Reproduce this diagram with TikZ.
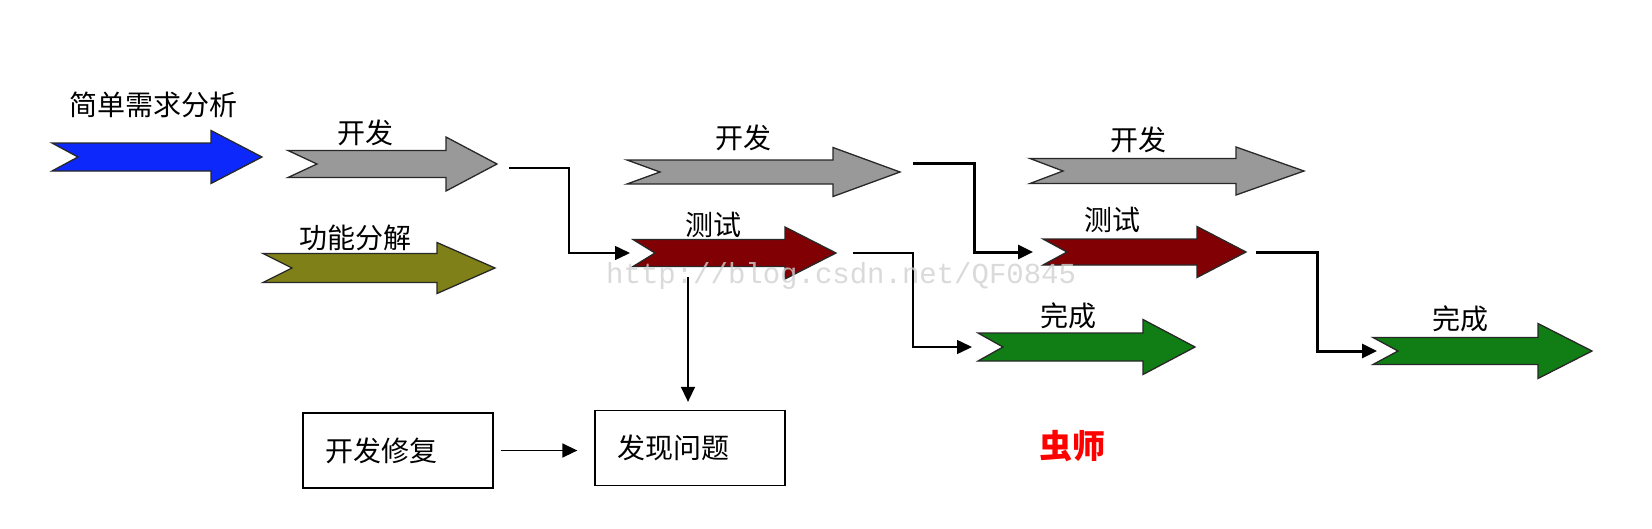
\documentclass[tikz,border=0pt]{standalone}
\usepackage{fontspec}
\newfontfamily\cjk{Noto Sans CJK SC}
\newfontfamily\wmfont{Liberation Mono}
\usetikzlibrary{arrows.meta}
\definecolor{cblue}{RGB}{12,40,250}
\definecolor{cgray}{RGB}{153,153,153}
\definecolor{colive}{RGB}{128,128,24}
\definecolor{cred}{RGB}{128,0,4}
\definecolor{cgreen}{RGB}{16,126,20}
\definecolor{outl}{RGB}{40,40,40}
\tikzset{
  arrowline/.style={draw=outl, line width=1.3pt, line join=miter},
  conn/.style={line width=1.5pt, -{Triangle[length=15pt,width=14pt]}},
  thickconn/.style={line width=3pt, -{Triangle[length=15pt,width=14pt]}},
  lbl/.style={font=\cjk\fontsize{28}{30}\selectfont, inner sep=0pt},
  boxnode/.style={draw, line width=1.3pt, minimum height=75pt, text width=146pt, inner xsep=22pt, align=left, font=\cjk\fontsize{28}{30}\selectfont},
}
% name, colour, tail x, notch x, centre y, shaft half, head x, head half, tip x
\newcommand\blockarrow[9]{%
  \draw[arrowline, fill=#2] (#3,#5-#6) -- (#7,#5-#6) -- (#7,#5-#8) -- (#9,#5) -- (#7,#5+#8) -- (#7,#5+#6) -- (#3,#5+#6) -- (#4,#5) -- cycle;
  \coordinate (#1-tail) at (#3,#5);
  \coordinate (#1-tip) at (#9,#5);}
\begin{document}
\begin{tikzpicture}[x=1pt,y=-1pt]
\useasboundingbox (0,0) rectangle (1652,528);
\fill[white] (0,0) rectangle (1652,528);

\blockarrow{b}{cblue}{52}{78}{157}{14}{211}{26.5}{262}
\blockarrow{g1}{cgray}{288}{317}{164}{13.5}{446}{27}{497}
\blockarrow{o}{colive}{263}{292}{268}{14.5}{437}{25.5}{495}
\blockarrow{g2}{cgray}{627}{660}{172}{12}{833}{24.5}{900}
\blockarrow{r1}{cred}{633}{655}{253}{13.5}{785}{26}{836}
\blockarrow{g3}{cgray}{1030}{1063}{171}{12.5}{1236}{24}{1304}
\blockarrow{r2}{cred}{1043}{1067}{252}{13}{1197}{25.5}{1246}
\blockarrow{gr1}{cgreen}{978}{1003}{347}{14}{1143}{27.5}{1195}
\blockarrow{gr2}{cgreen}{1373}{1398}{351}{13.5}{1538}{27.5}{1592}

\node[lbl] (tb) at (153,105) {简单需求分析};
\node[lbl] (tg1) at (365,133) {开发};
\node[lbl] (to) at (355,238) {功能分解};
\node[lbl] (tg2) at (743,138) {开发};
\node[lbl] (tr1) at (713,225) {测试};
\node[lbl] (tg3) at (1138,140) {开发};
\node[lbl] (tr2) at (1112,220) {测试};
\node[lbl] (tgr1) at (1068,316) {完成};
\node[lbl] (tgr2) at (1460,319) {完成};

\node[boxnode] (box1) at (398,450.5) {开发修复};
\node[boxnode] (box2) at (690,448) {发现问题};

\node[font=\cjk\bfseries\fontsize{33}{35}\selectfont, text=red, inner sep=0pt] (cs) at (1072,446) {虫师};

\draw[conn] ([shift={(12,4)}]g1-tip) -- ++(60,0) |- ([xshift=-3pt]r1-tail);
\draw[thickconn] ([shift={(13,-9)}]g2-tip) -- ++(61,0) |- ([xshift=-10pt]r2-tail);
\draw[conn] ([xshift=17pt]r1-tip) -- ++(60,0) |- ([xshift=-6pt]gr1-tail);
\draw[thickconn] ([xshift=10pt]r2-tip) -- ++(61,0) |- ([xshift=4pt]gr2-tail);
\coordinate (r1-down) at ([shift={(55,24)}]r1-tail);
\draw[conn, shorten >=8pt] (r1-down) -- (r1-down |- box2.north);
\draw[conn, shorten <=7pt, shorten >=17pt] (box1.east) -- (box1.east -| box2.west);

\node[font=\wmfont\fontsize{29}{31}\selectfont, text=black!18, opacity=0.8, anchor=west, inner sep=0pt] (wm) at (606,276) {http://blog.csdn.net/QF0845};
\end{tikzpicture}
\end{document}
